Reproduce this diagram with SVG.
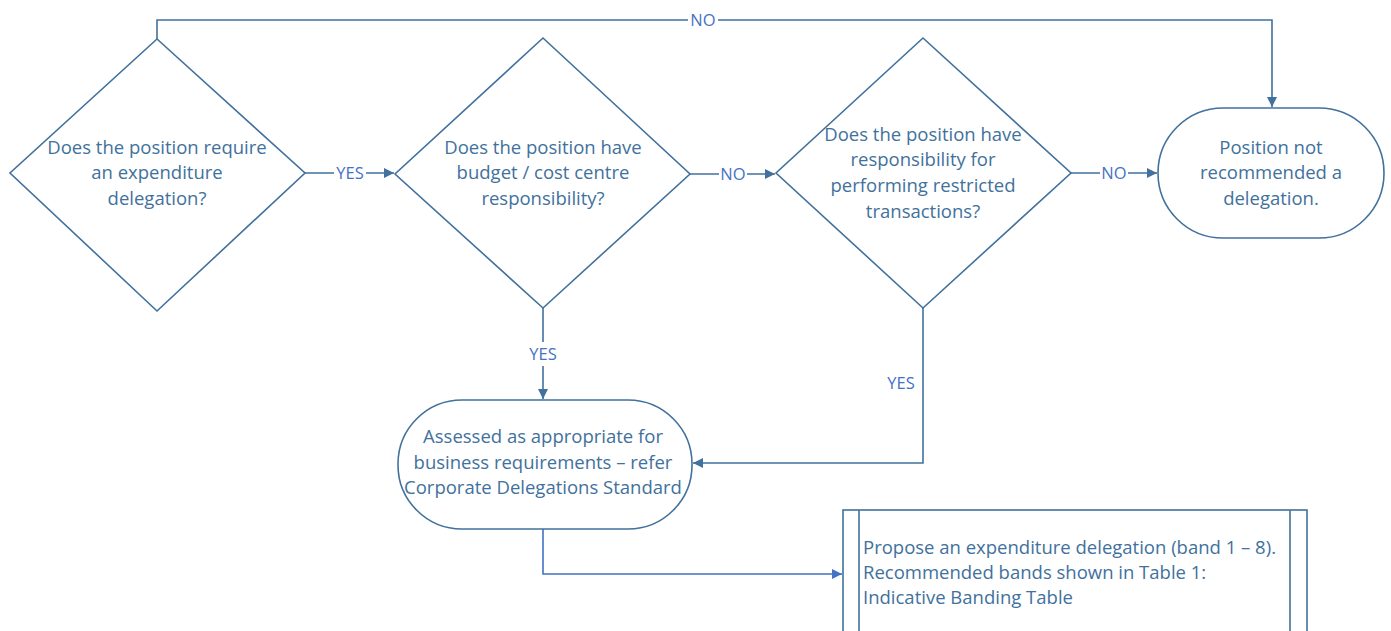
<svg xmlns="http://www.w3.org/2000/svg" width="1391" height="631" viewBox="0 0 1391 631">
<style>
.shape{fill:#ffffff;stroke:#41719c;stroke-width:1.6}
.conn{fill:none;stroke:#41719c;stroke-width:1.6}
.conn2{fill:none;stroke:#4472c4;stroke-width:1.6}
.t{font-family:"Open Sans","Liberation Sans",Arial,sans-serif;font-size:18.5px;fill:#41719c;text-anchor:middle}
.lbl{font-family:"Open Sans","Liberation Sans",Arial,sans-serif;font-size:16.5px;fill:#4472c4;text-anchor:middle}
.lblbg{fill:#ffffff}
</style>
<defs>
<marker id="arr" viewBox="0 0 10 10" refX="10" refY="5" markerWidth="10" markerHeight="10" markerUnits="userSpaceOnUse" orient="auto">
<path d="M0,0 L10,5 L0,10 z" fill="#41719c"/>
</marker>
<marker id="arr2" viewBox="0 0 10 10" refX="10" refY="5" markerWidth="10" markerHeight="10" markerUnits="userSpaceOnUse" orient="auto">
<path d="M0,0 L10,5 L0,10 z" fill="#4472c4"/>
</marker>
</defs>
<g id="connectors">
<path class="conn" d="M157,39 V20 H1272 V107" marker-end="url(#arr)"/>
<rect class="lblbg" x="688" y="10" width="30" height="20"/>
<text class="lbl" x="703" y="26">NO</text>
<path class="conn" d="M305,173 H394" marker-end="url(#arr)"/>
<rect class="lblbg" x="334" y="163" width="32" height="20"/>
<text class="lbl" x="350" y="179">YES</text>
<path class="conn" d="M690,174 H775" marker-end="url(#arr)"/>
<rect class="lblbg" x="719" y="164" width="28" height="20"/>
<text class="lbl" x="733" y="180">NO</text>
<path class="conn" d="M1071,173 H1157" marker-end="url(#arr)"/>
<rect class="lblbg" x="1100" y="163" width="28" height="20"/>
<text class="lbl" x="1114" y="179">NO</text>
<path class="conn" d="M543,308 V399" marker-end="url(#arr)"/>
<rect class="lblbg" x="526" y="342" width="34" height="24"/>
<text class="lbl" x="543" y="360">YES</text>
<path class="conn" d="M923,308 V463 H693" marker-end="url(#arr)"/>
<text class="lbl" x="901" y="389">YES</text>
<path class="conn2" d="M543,529 V574 H842" marker-end="url(#arr2)"/>
</g>
<g id="node-d1">
<polygon class="shape" points="157,39 305,173 157,311 10,173"/>
<text class="t" x="157" y="154">Does the position require</text>
<text class="t" x="157" y="179">an expenditure</text>
<text class="t" x="157" y="205">delegation?</text>
</g>
<g id="node-d2">
<polygon class="shape" points="543,38 690,174 543,308 395,174"/>
<text class="t" x="543" y="154">Does the position have</text>
<text class="t" x="543" y="179">budget / cost centre</text>
<text class="t" x="543" y="205">responsibility?</text>
</g>
<g id="node-d3">
<polygon class="shape" points="923,38 1071,173 923,308 776,173"/>
<text class="t" x="923" y="141">Does the position have</text>
<text class="t" x="923" y="166">responsibility for</text>
<text class="t" x="923" y="192">performing restricted</text>
<text class="t" x="923" y="218">transactions?</text>
</g>
<g id="node-r1">
<rect class="shape" x="1158" y="108" width="226" height="130" rx="65" ry="65"/>
<text class="t" x="1271" y="154">Position not</text>
<text class="t" x="1271" y="179">recommended a</text>
<text class="t" x="1271" y="205">delegation.</text>
</g>
<g id="node-r2">
<rect class="shape" x="398" y="400" width="294" height="129" rx="64" ry="64"/>
<text class="t" x="543" y="443">Assessed as appropriate for</text>
<text class="t" x="543" y="469">business requirements – refer</text>
<text class="t" x="543" y="494">Corporate Delegations Standard</text>
</g>
<g id="node-p1">
<rect class="shape" x="843" y="510" width="464" height="130"/>
<line class="conn" x1="859" y1="510" x2="859" y2="640"/>
<line class="conn" x1="1290" y1="510" x2="1290" y2="640"/>
<text class="t" style="text-anchor:start" x="863" y="554">Propose an expenditure delegation (band 1 – 8).</text>
<text class="t" style="text-anchor:start" x="863" y="579">Recommended bands shown in Table 1:</text>
<text class="t" style="text-anchor:start" x="863" y="604">Indicative Banding Table</text>
</g>
</svg>
